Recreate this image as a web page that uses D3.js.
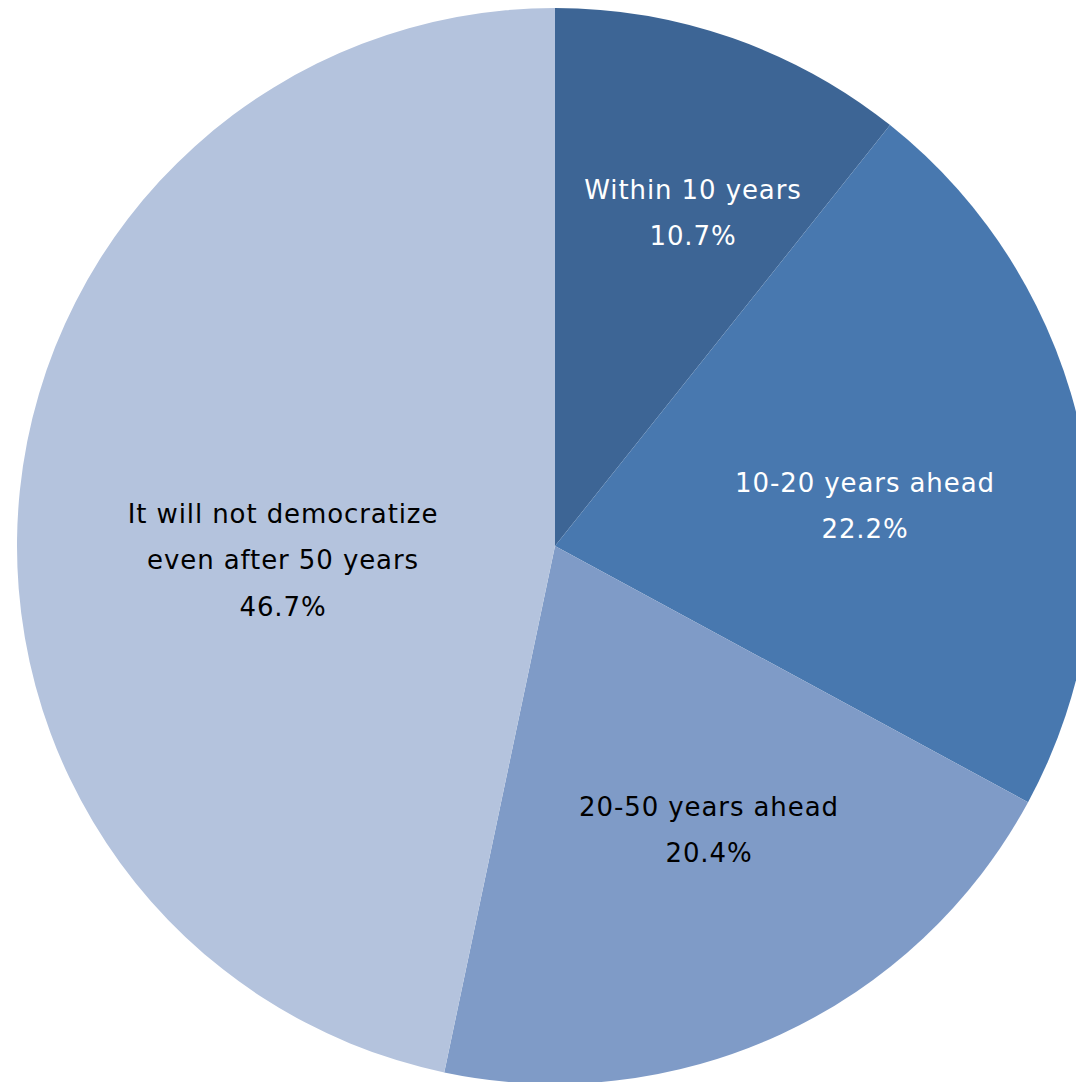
<!DOCTYPE html>
<html><head><meta charset="utf-8">
<script src="https://cdn.jsdelivr.net/npm/d3@7"></script>
<style>html,body{margin:0;padding:0;background:#fff;overflow:hidden}</style>
</head><body>
<svg id="chart" width="1076" height="1082"></svg>
<script>
const categories = ["Within 10 years", "10-20 years ahead", "20-50 years ahead", "It will not democratize even after 50 years"];
const values = [10.7, 22.2, 20.4, 46.7];
const labelLines = [["Within 10 years"], ["10-20 years ahead"], ["20-50 years ahead"], ["It will not democratize", "even after 50 years"]];
const colors = ["#3d6595", "#4878af", "#7f9bc7", "#b4c3dd"];
const textColors = ["#ffffff", "#ffffff", "#000000", "#000000"];
// label centre offsets from pie centre (px)
const labelOffsets = [[138, -333], [310, -40], [154, 284], [-272, 14]];

const svg = d3.select("#chart");
const cx = 555, cy = 546, r = 538;
const g = svg.append("g").attr("transform", `translate(${cx},${cy})`);
const pie = d3.pie().sort(null).value(d => d);
const arc = d3.arc().innerRadius(0).outerRadius(r);
const arcs = pie(values);
g.selectAll("path").data(arcs).enter().append("path")
  .attr("d", arc).attr("fill", (d, i) => colors[i]);

const lh = 46.5;
arcs.forEach((a, i) => {
  const lines = labelLines[i].concat([values[i].toFixed(1) + "%"]);
  const [ox, oy] = labelOffsets[i];
  const t = g.append("text").attr("text-anchor", "middle")
    .attr("font-family", "DejaVu Sans, Verdana, sans-serif")
    .attr("font-size", 26).attr("letter-spacing", "0.9px").attr("fill", textColors[i]);
  lines.forEach((ln, k) => {
    t.append("tspan").attr("x", ox)
      .attr("y", oy + (k - (lines.length - 1) / 2) * lh + 9).text(ln);
  });
});
</script>
</body></html>
